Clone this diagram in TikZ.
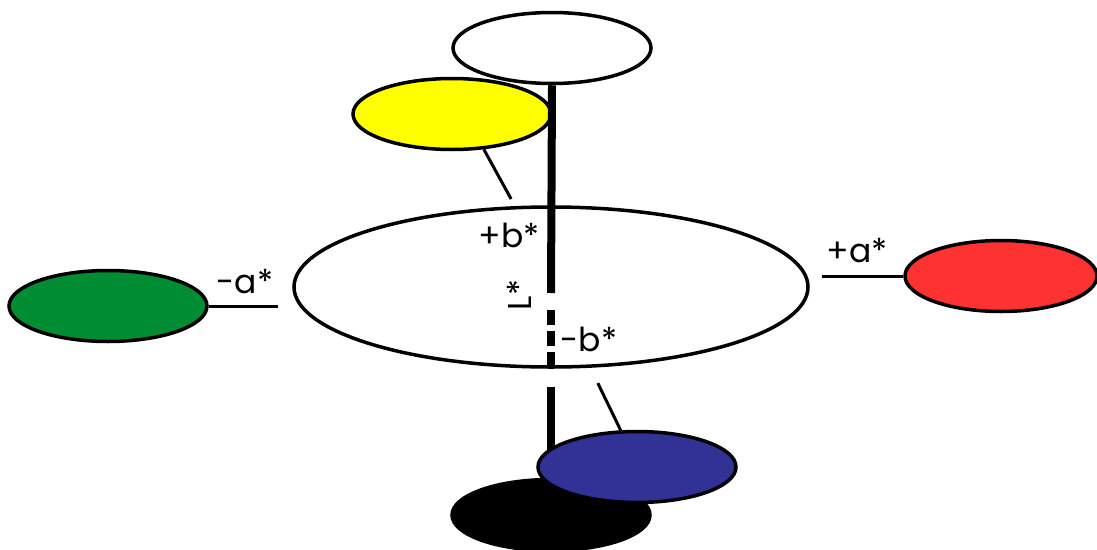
\documentclass[tikz,border=0pt]{standalone}
\usepackage{fontspec}
\setsansfont{Poppins}
\usepackage{tikz}
\usetikzlibrary{shapes.geometric, positioning, calc}
\definecolor{LabYellow}{RGB}{255,255,0}
\definecolor{LabGreen}{RGB}{0,140,50}
\definecolor{LabRed}{RGB}{255,50,50}
\definecolor{LabBlue}{RGB}{50,50,150}

\begin{document}
\begin{tikzpicture}[x=1pt, y=-1pt,
	every node/.style={font=\sffamily\fontsize{33}{35}\selectfont},
	patch/.style={ellipse, draw, line width=3.5pt, inner sep=0pt,
		minimum width=198pt, minimum height=71pt},
	axisline/.style={line width=8pt},
	tieline/.style={line width=3pt}]
	\useasboundingbox (0,0) rectangle (1097,549);
	% upper half: white and yellow patches
	\node[patch, fill=white] (white) at (552,48) {};
	\node[patch, fill=LabYellow] (yellow) at (452,114) {};
	% the a*b* plane
	\node[patch, minimum width=514pt, minimum height=160pt] (big) at (551,287) {};
	% L* axis
	\draw[axisline] (white.south) -- ([yshift=-6pt]big.center);
	\draw[axisline, dash pattern=on 15pt off 6pt] ([yshift=-23pt]big.center) -- (big.south);
	% lower half: black and blue patches
	\node[patch, fill=black] (black) at (551,515) {};
	\draw[axisline] ([yshift=-18pt]big.south) -- (black.north);
	\node[patch, fill=LabBlue] (blue) at (637,467) {};
	\node[patch, fill=LabGreen] (green) at (108,306) {};
	\node[patch, fill=LabRed, minimum width=192pt] (red) at (1001,276) {};
	% ties from the plane to the patches
	\draw[tieline, shorten >=14pt] (green.east) -- (green.east -| big.west);
	\draw[tieline, shorten >=12pt] (red.west) -- (red.west -| big.east);
	\draw[tieline, shorten >=8pt] (yellow.-48) -- (big.114);
	\draw[tieline, shorten <=17pt] (big.-64) -- (blue.114);
	% axis labels
	\node (minusa) at (245,282) {-a*};
	\node (plusa) at (857,251) {+a*};
	\node (plusb) at (509,235) {+b*};
	\node (minusb) at (589,339) {-b*};
	\node[rotate=90] (lstar) at (519,295) {L*};
\end{tikzpicture}
\end{document}
